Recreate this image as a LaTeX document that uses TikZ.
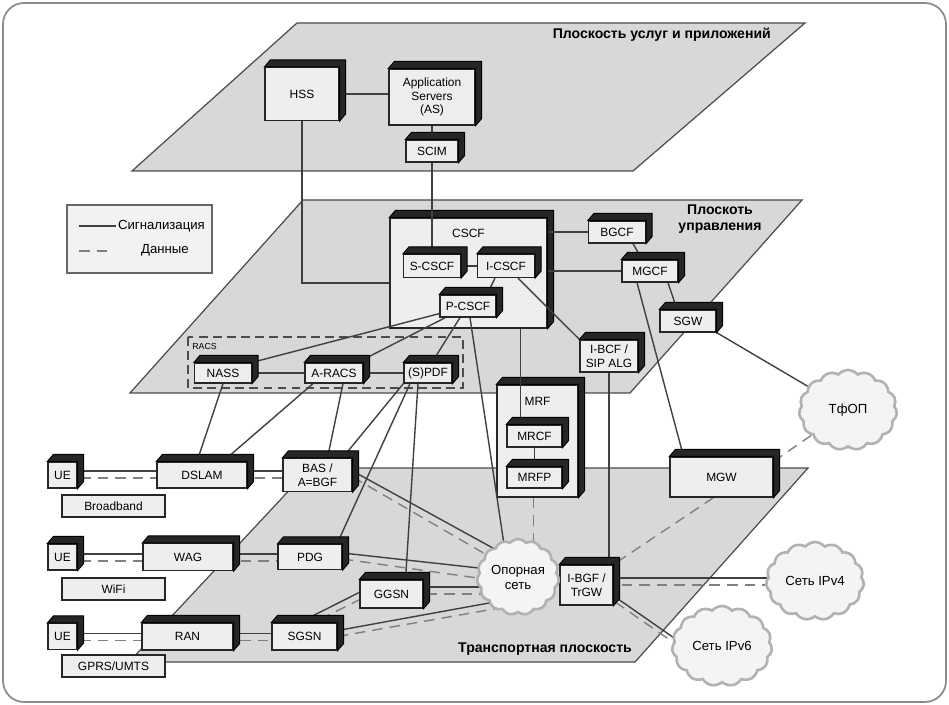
\documentclass[tikz,border=0pt]{standalone}
\usepackage{fontspec}
\setmainfont{Liberation Sans}
\usetikzlibrary{shapes.symbols}
\definecolor{planefill}{RGB}{216,216,216}
\definecolor{boxfront}{RGB}{238,238,238}
\definecolor{cloudfill}{RGB}{244,244,244}
\pgfdeclarelayer{planes}
\pgfdeclarelayer{boxes}
\pgfdeclarelayer{links}
\pgfsetlayers{planes,boxes,links,main}

\tikzset{
  plane/.style={fill=planefill, draw=black!70, line width=0.7pt},
  planelabel/.style={font=\fontsize{8}{9.5}\selectfont\bfseries, align=center},
  unit/.style={draw=black!85, fill=boxfront, line width=0.7pt, inner sep=0pt,
               align=center, font=\fontsize{6.8}{7.8}\selectfont},
  sz/.style 2 args={minimum width=#1*0.02cm, minimum height=#2*0.02cm},
  net/.style={cloud, cloud puffs=15, cloud puff arc=100, cloud ignores aspect,
              draw=black!30, line width=1.5pt, fill=cloudfill, inner sep=0pt,
              align=center, font=\fontsize{7.5}{8.5}\selectfont},
  sig/.style={draw=black!75, line width=0.8pt},
  dat/.style={draw=black!50, line width=0.8pt, dash pattern=on 6pt off 4pt},
  side/.style={fill=black!85, draw=black, line width=0.5pt},
}
% dark top and right face of a box
\newcommand{\boxfaces}[1]{%
  \filldraw[side] (#1.north west) -- ++(6,-7) -- ([shift={(6,-7)}]#1.north east)
    -- ([shift={(6,-7)}]#1.south east) -- (#1.south east) -- (#1.north east) -- cycle;}

\begin{document}
\begin{tikzpicture}[x=0.02cm, y=-0.02cm]
\useasboundingbox (0,0) rectangle (949,705);

\begin{pgfonlayer}{planes}
  \draw[black!45, line width=1pt, rounded corners=12pt] (3,3) rectangle (946,702);
  % three planes
  \filldraw[plane] (297,23) -- (805,23) -- (633,171) -- (132,171) -- cycle;
  \filldraw[plane] (303,200) -- (802,200) -- (630,393) -- (130,393) -- cycle;
  \filldraw[plane] (310,468) -- (808,468) -- (635,662) -- (129,662) -- cycle;
  \node[planelabel, anchor=east] (svcname) at (777,35) {Плоскость услуг и приложений};
  \node[planelabel] (ctlname) at (720,219) {Плоскоть\\управления};
  \node[planelabel] (trname) at (545,649) {Транспортная плоскость};
  % RACS group
  \draw[black!70, line width=0.7pt, dash pattern=on 5pt off 3pt] (188,337) rectangle (463,388);
  \node[font=\fontsize{5}{6}\selectfont, anchor=west, inner sep=0pt] (racsname) at (192,346) {RACS};
\end{pgfonlayer}

% legend
\node[draw=black!60, fill=black!5, line width=0.7pt, sz={145}{68}] (legend) at (139.5,239) {};
\draw[sig] (79,226) -- (116,226);
\node[font=\fontsize{7.5}{9}\selectfont, anchor=west, inner sep=1pt] (sigtext) at (116,226) {Сигнализация};
\draw[dat] (79,251) -- (114,251);
\node[font=\fontsize{7.5}{9}\selectfont] (dattext) at (165,250) {Данные};

% services plane
\node[unit, sz={74}{53}] (hss) at (302,94) {HSS};
\node[unit, sz={86}{56}] (as) at (432,97) {Application\\Servers\\(AS)};
\node[unit, sz={52}{22}] (scim) at (432,151) {SCIM};

% control plane
\begin{pgfonlayer}{boxes}
  \node[unit, sz={157}{110},
        label={[font=\fontsize{6.8}{7.8}\selectfont, anchor=north, yshift=-3pt]north:CSCF}]
        (cscf) at (468.5,273) {};
  \node[unit, sz={81}{112},
        label={[font=\fontsize{6.8}{7.8}\selectfont, anchor=north, yshift=-4pt]north:MRF}]
        (mrf) at (537.5,441) {};
  \boxfaces{cscf}
  \boxfaces{mrf}
\end{pgfonlayer}
\node[unit, sz={57}{23}] (scscf) at (432,266) {S-CSCF};
\node[unit, sz={57}{23}] (icscf) at (506,266) {I-CSCF};
\node[unit, sz={56}{22}] (pcscf) at (468,306) {P-CSCF};
\node[unit, sz={57}{22}] (bgcf) at (617,232) {BGCF};
\node[unit, sz={56}{22}] (mgcf) at (650,271) {MGCF};
\node[unit, sz={56}{22}] (sgw) at (688,321) {SGW};
\node[unit, sz={58}{32}] (ibcf) at (609,356) {I-BCF /\\SIP ALG};
\node[unit, sz={57}{20}] (nass) at (223,373) {NASS};
\node[unit, sz={58}{20}] (aracs) at (334,373) {A-RACS};
\node[unit, sz={48}{20}] (spdf) at (428,373) {(S)PDF};
\node[unit, sz={55}{22}] (mrcf) at (534.5,436) {MRCF};
\node[unit, sz={55}{21}] (mrfp) at (534.5,477.5) {MRFP};
\node[unit, sz={103}{40}] (mgw) at (721.5,477) {MGW};

% access and transport
\node[unit, sz={29}{26}] (ue1) at (62.5,475) {UE};
\node[unit, sz={29}{26}] (ue2) at (62.5,557) {UE};
\node[unit, sz={29}{26}] (ue3) at (62.5,636.5) {UE};
\node[unit, sz={103}{22}] (bb) at (113.5,506) {Broadband};
\node[unit, sz={103}{22}] (wifi) at (113.5,589) {WiFi};
\node[unit, sz={103}{22}] (gprs) at (113.5,666) {GPRS/UMTS};
\node[unit, sz={90}{26}] (dslam) at (202,475) {DSLAM};
\node[unit, sz={69}{33}] (bas) at (317.5,475) {BAS /\\A=BGF};
\node[unit, sz={90}{27}] (wag) at (188,557) {WAG};
\node[unit, sz={64}{25}] (pdg) at (310,557) {PDG};
\node[unit, sz={91}{27}] (ran) at (187.5,636.5) {RAN};
\node[unit, sz={65}{27}] (sgsn) at (304.5,636.5) {SGSN};
\node[unit, sz={63}{28}] (ggsn) at (391.5,594) {GGSN};
\node[unit, sz={53}{40}] (ibgf) at (586.5,585) {I-BGF /\\TrGW};

% networks
\node[net, sz={82}{76}] (core) at (518,577) {Опорная\\сеть};
\node[net, sz={98}{78}] (ipv4) at (815,581) {Сеть IPv4};
\node[net, sz={100}{80}] (ipv6) at (722,646) {Сеть IPv6};
\node[net, sz={98}{80}] (pstn) at (848,410) {ТфОП};

\foreach \n in {hss,as,scim,scscf,icscf,pcscf,bgcf,mgcf,sgw,ibcf,nass,aracs,spdf,
                mrcf,mrfp,mgw,ue1,ue2,ue3,dslam,bas,wag,pdg,ran,sgsn,ggsn,ibgf}
  {\boxfaces{\n}}

\begin{pgfonlayer}{links}
  % services plane
  \draw[sig] (hss) -- (hss -| as);
  \draw[sig] (as) -- (scim);
  \draw[sig] (scim) -- (scscf);
  \draw[sig] (hss) |- ([shift={(0,10)}]cscf.west);
  % control plane
  \draw[sig] (scscf) -- (icscf);
  \draw[sig] ([shift={(-11,0)}]icscf.south) -- ([shift={(19,0)}]pcscf.north);
  \draw[sig] (cscf.east |- bgcf) -- (bgcf);
  \draw[sig] (cscf.east |- mgcf) -- (mgcf);
  \draw[sig] ([shift={(16,0)}]bgcf.south) -- ([shift={(-8,0)}]mgcf.north);
  \draw[sig] ([shift={(18,0)}]mgcf.south) -- ([shift={(-11,0)}]sgw.north);
  \draw[sig] ([shift={(12,0)}]icscf.south) -- (ibcf.north west);
  \draw[sig] ([shift={(-13,0)}]mgcf.south) -- ([shift={(-38,0)}]mgw.north);
  \draw[sig] (sgw.south east) -- (pstn);
  \draw[sig] ([shift={(0,-4)}]pcscf.south west) -- (nass.north east);
  \draw[sig] ([shift={(6,0)}]pcscf.south west) -- ([shift={(-6,0)}]aracs.north east);
  \draw[sig] ([shift={(-8,0)}]pcscf.south) -- ([shift={(4,0)}]spdf.north);
  \draw[sig] (nass) -- (aracs);
  \draw[sig] (aracs) -- (spdf);
  \draw[sig] (ibcf.south) -- (ibcf.south |- ibgf.north);
  \draw[sig] ([shift={(2,0)}]pcscf.south) -- ([shift={(-12,20)}]core.north);
  \draw[sig] ([shift={(52,0)}]cscf.south) -- ([shift={(-14,0)}]mrcf.north);
  \draw[sig] (mrcf) -- (mrfp);
  \draw[dat] ([shift={(-4,0)}]mrf.south) -- ([shift={(15.5,0)}]core.center);
  % RACS down to access
  \draw[sig] (nass.south) -- ([shift={(-5,0)}]dslam.north);
  \draw[sig] ([shift={(-21,0)}]aracs.south) -- ([shift={(21,0)}]dslam.north);
  \draw[sig] ([shift={(9,0)}]aracs.south) -- ([shift={(10,0)}]bas.north);
  \draw[sig] (spdf.south west) -- ([shift={(25,0)}]bas.north);
  \draw[sig] ([shift={(-18,0)}]spdf.south) -- ([shift={(27,0)}]pdg.north);
  \draw[sig] ([shift={(-10,0)}]spdf.south) -- ([shift={(14,0)}]ggsn.north);
  % outside networks
  \draw[dat] ([shift={(0,5)}]mgw.north east) -- (pstn);
  \draw[dat] ([shift={(-8,0)}]mgw.south) -- (ibgf.north east);
  \draw[sig] ([shift={(0,-7)}]ibgf.center) -- ([shift={(0,-3)}]ipv4.center);
  \draw[dat] (ibgf.center) -- ([shift={(0,4)}]ipv4.center);
  \draw[sig] ([shift={(0,-8)}]ibgf.center) -- ([shift={(-22,10)}]ipv6.center);
  \draw[dat] ([shift={(0,-3)}]ibgf.center) -- ([shift={(-22,15)}]ipv6.center);
  % access rows
  \draw[sig] ([shift={(0,-4)}]ue1.center) -- ([shift={(0,-4)}]dslam.center);
  \draw[dat] ([shift={(0,3)}]ue1.center) -- ([shift={(0,3)}]dslam.center);
  \draw[sig] ([shift={(0,-4)}]dslam.center) -- ([shift={(0,-4)}]bas.center);
  \draw[dat] ([shift={(0,3)}]dslam.center) -- ([shift={(0,3)}]bas.center);
  \draw[sig] ([shift={(0,-3)}]ue2.center) -- ([shift={(0,-3)}]wag.center);
  \draw[dat] ([shift={(0,4)}]ue2.center) -- ([shift={(0,4)}]wag.center);
  \draw[sig] ([shift={(0,-3)}]wag.center) -- ([shift={(0,-3)}]pdg.center);
  \draw[dat] ([shift={(0,4)}]wag.center) -- ([shift={(0,4)}]pdg.center);
  \draw[sig] ([shift={(0,-3)}]ue3.center) -- ([shift={(0,-3)}]ran.center);
  \draw[dat] ([shift={(0,4)}]ue3.center) -- ([shift={(0,4)}]ran.center);
  \draw[sig] ([shift={(0,-3)}]ran.center) -- ([shift={(0,-3)}]sgsn.center);
  \draw[dat] ([shift={(0,4)}]ran.center) -- ([shift={(0,4)}]sgsn.center);
  % into the core network
  \draw[sig] ([shift={(0,-4)}]bas.east) -- ([shift={(-7,-19)}]core.center);
  \draw[dat] ([shift={(0,2)}]bas.east) -- ([shift={(-7,-8)}]core.center);
  \draw[sig] ([shift={(0,-4)}]pdg.east) -- ([shift={(-12,-6)}]core.center);
  \draw[dat] ([shift={(0,2)}]pdg.east) -- ([shift={(-12,5)}]core.center);
  \draw[sig] ([shift={(0,-7)}]ggsn.center) -- ([shift={(-10,10)}]core.center);
  \draw[dat] (ggsn.center) -- ([shift={(-10,17)}]core.center);
  \draw[sig] ([shift={(0,-6)}]sgsn.east) -- ([shift={(-7,22)}]core.center);
  \draw[dat] (sgsn.east) -- ([shift={(-7,29)}]core.center);
  \draw[sig] ([shift={(0,-16.5)}]sgsn.center) -- ([shift={(-16.5,-9.5)}]ggsn.center);
  \draw[dat] ([shift={(0,-9.5)}]sgsn.center) -- ([shift={(-16.5,-2)}]ggsn.center);
\end{pgfonlayer}
\end{tikzpicture}
\end{document}
